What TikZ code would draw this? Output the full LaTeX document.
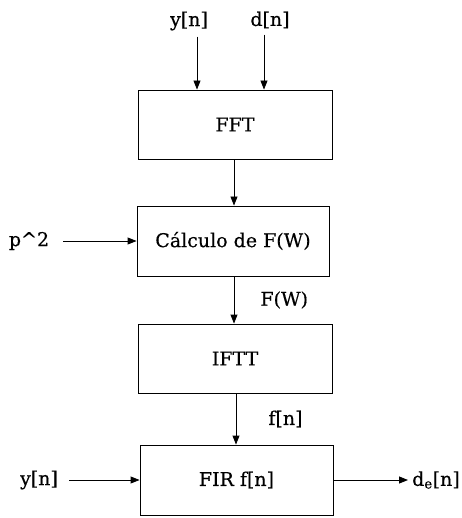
\documentclass[tikz,border=0pt]{standalone}
\usepackage{fontspec}
\setmainfont{DejaVu Serif}[FakeBold=0.4]
\usetikzlibrary{arrows.meta}

\begin{document}
\begin{tikzpicture}[
    x=1pt, y=-1pt,
    blk/.style={draw, line width=0.9pt, minimum width=194pt, minimum height=69pt,
                inner sep=0pt, font=\fontsize{19}{22}\selectfont},
    lbl/.style={inner sep=2pt, font=\fontsize{19}{22}\selectfont},
    arr/.style={-{Triangle[length=9pt,width=7pt]}, line width=0.9pt}
]
\useasboundingbox (0,0) rectangle (461,518);

\node[blk] (fft)  at (235,124.5) {FFT};
\node[blk, minimum width=192pt, minimum height=70pt] (calc) at (233,241) {Cálculo de F(W)};
\node[blk] (ifft) at (235,358.5) {IFTT};
\node[blk, minimum width=193pt, minimum height=70pt] (fir)  at (236.5,480) {FIR f[n]};

\node[lbl] (yin)  at (189,21)  {y[n]};
\node[lbl] (din)  at (270,20)  {d[n]};
\node[lbl] (p2)   at (29,241)  {p\textasciicircum 2};
\node[lbl] (yfir) at (39,480)  {y[n]};
\node[lbl] (dout) at (436,480) {d\textsubscript{e}[n]};

\draw[arr, shorten <=4pt] ([xshift=8pt]yin.south) -- ([xshift=8pt]yin.south |- fft.north);
\draw[arr, shorten <=4pt] ([xshift=-6pt]din.south) -- ([xshift=-6pt]din.south |- fft.north);
\draw[arr] ([xshift=-1pt]fft.south) -- ([xshift=-1pt]fft.south |- calc.north);
\draw[arr] ([xshift=1pt]calc.south) -- node[lbl, right, xshift=24pt]{F(W)} ([xshift=1pt]calc.south |- ifft.north);
\draw[arr] ([xshift=1pt]ifft.south) -- node[lbl, right, xshift=30pt]{f[n]} ([xshift=1pt]ifft.south |- fir.north);
\draw[arr, shorten <=12pt] (p2) -- (calc);
\draw[arr, shorten <=9pt] (yfir) -- (fir);
\draw[arr, shorten >=2pt] (fir) -- (dout);
\end{tikzpicture}
\end{document}
